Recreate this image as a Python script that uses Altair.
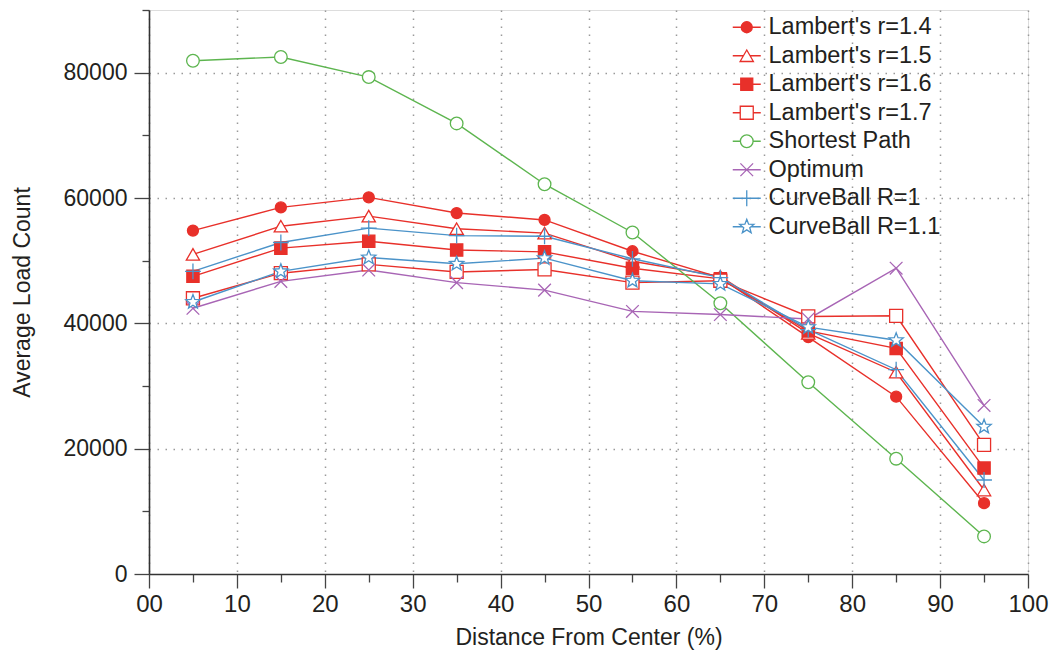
import altair as alt
import pandas as pd

# ---- data ----
x_pct = [5, 15, 25, 35, 45, 55, 65, 75, 85, 95]

series_names = [
    "Lambert's r=1.4",
    "Lambert's r=1.5",
    "Lambert's r=1.6",
    "Lambert's r=1.7",
    "Shortest Path",
    "Optimum",
    "CurveBall R=1",
    "CurveBall R=1.1",
]

lam14 = [54800, 58500, 60100, 57600, 56500, 51500, 47300, 37800, 28300, 11300]
lam15 = [51000, 55500, 57100, 55100, 54400, 49900, 47500, 38400, 32200, 13400]
lam16 = [47500, 52000, 53100, 51700, 51400, 48800, 47100, 38800, 36000, 16900]
lam17 = [44000, 48000, 49400, 48200, 48600, 46500, 46800, 41100, 41200, 20600]
shortest = [81900, 82500, 79300, 71900, 62200, 54500, 43200, 30600, 18400, 6000]
optimum = [42400, 46700, 48500, 46500, 45300, 41900, 41400, 40700, 48800, 26900]
cb1 = [48300, 52900, 55200, 54000, 53900, 50300, 47300, 39000, 32600, 15000]
cb11 = [43400, 48300, 50500, 49500, 50400, 46800, 46300, 39400, 37300, 23500]

series_values = [lam14, lam15, lam16, lam17, shortest, optimum, cb1, cb11]

# ---- styles ----
RED = "#e8302a"
GREEN = "#5db54f"
PURPLE = "#a865b5"
BLUE = "#4b93c9"
colors = [RED, RED, RED, RED, GREEN, PURPLE, BLUE, BLUE]
fills = [RED, "white", RED, "white", "white", "white", "white", "white"]

# plot markers
STAR = ("M0,-1L0.247,-0.34L0.951,-0.309L0.4,0.13L0.588,0.809L0,0.42"
        "L-0.588,0.809L-0.4,0.13L-0.951,-0.309L-0.247,-0.34Z")
XMARK = "M-1,-1L1,1M1,-1L-1,1"
PLUS = "M-1,0L1,0M0,-1L0,1"
shapes = ["circle", "triangle-up", "square", "square", "circle", XMARK, PLUS, STAR]
sizes = [121, 177, 150, 170, 160, 160, 250, 225]

# legend symbols: marker with a short line through it (unit = 10 px)
def circ(r):
    return f"M-{r},0A{r},{r} 0 1,0 {r},0A{r},{r} 0 1,0 -{r},0Z"

LG_FULL = "M-1.4,0L1.4,0"
def lg_split(h):
    return f"M-1.4,0L-{h},0M{h},0L1.4,0"

legend_shapes = [
    LG_FULL + circ(0.55),
    lg_split(0.333) + "M0,-0.576L-0.665,0.576L0.665,0.576Z",
    LG_FULL + "M-0.6,-0.6L0.6,-0.6L0.6,0.6L-0.6,0.6Z",
    lg_split(0.65) + "M-0.65,-0.65L0.65,-0.65L0.65,0.65L-0.65,0.65Z",
    lg_split(0.635) + circ(0.635),
    LG_FULL + "M-0.635,-0.635L0.635,0.635M0.635,-0.635L-0.635,0.635",
    LG_FULL + "M0,-0.79L0,0.79",
    lg_split(0.42) + ("M0,-0.75L0.185,-0.255L0.713,-0.232L0.3,0.0975L0.441,0.607"
                      "L0,0.315L-0.441,0.607L-0.3,0.0975L-0.713,-0.232L-0.185,-0.255Z"),
]

rows = []
for name, vals in zip(series_names, series_values):
    for xv, yv in zip(x_pct, vals):
        rows.append({"x": xv, "y": yv, "series": name})
df = pd.DataFrame(rows)

FONT = "Liberation Sans"
TXT = "#231f20"

x_axis = alt.Axis(
    values=list(range(0, 101, 5)),
    labelExpr="datum.value % 10 === 0 ? (datum.value === 0 ? '00' : datum.label) : ''",
    tickSize={"condition": {"test": "datum.value % 10 === 0", "value": 14}, "value": 8},
    gridOpacity={"condition": {"test": "datum.value % 10 === 0", "value": 1}, "value": 0},
    grid=True,
    gridDash=[1.5, 6.5],
    gridColor="#9a9a9a",
    gridWidth=1.5,
    labelFontSize=24,
    labelPadding=4,
    labelColor=TXT,
    labelFont=FONT,
    labelOverlap=False,
    labelFlush=False,
    titleFont=FONT,
    titleFontSize=23,
    titleFontWeight="normal",
    titleColor=TXT,
    titleX=439.5,
    titleY=63,
    titleAlign="center",
    titleBaseline="middle",
    domainColor="#333333",
    domainWidth=1.6,
    tickColor="#444444",
    tickWidth=1.3,
)

y_axis = alt.Axis(
    values=list(range(0, 90001, 10000)),
    format="d",
    labelExpr="datum.value % 20000 === 0 ? datum.label : ''",
    tickSize={"condition": {"test": "datum.value % 20000 === 0", "value": 15}, "value": 7},
    gridOpacity={"condition": {"test": "datum.value % 20000 === 0 && datum.value > 0", "value": 1}, "value": 0},
    grid=True,
    gridDash=[1.5, 6.5],
    gridColor="#9a9a9a",
    gridWidth=1.5,
    labelFontSize=23,
    labelPadding=7,
    labelColor=TXT,
    labelFont=FONT,
    labelOverlap=False,
    labelFlush=False,
    titleFont=FONT,
    titleFontSize=23,
    titleFontWeight="normal",
    titleColor=TXT,
    titleX=-127,
    titleY=282,
    titleAngle=270,
    titleAlign="center",
    titleBaseline="middle",
    domainColor="#333333",
    domainWidth=1.6,
    tickColor="#444444",
    tickWidth=1.3,
)

base = alt.Chart(df).encode(
    x=alt.X("x:Q", scale=alt.Scale(domain=[0, 100], nice=False, zero=False),
            axis=x_axis, title="Distance From Center (%)"),
    y=alt.Y("y:Q", scale=alt.Scale(domain=[0, 90000], nice=False),
            axis=y_axis, title="Average Load Count"),
)

lines = base.mark_line(strokeWidth=1.4).encode(
    color=alt.Color("series:N", scale=alt.Scale(domain=series_names, range=colors),
                    legend=None),
)

points = base.mark_point(strokeWidth=1.3, opacity=1, fillOpacity=1).encode(
    shape=alt.Shape("series:N", scale=alt.Scale(domain=series_names, range=shapes),
                    legend=None),
    stroke=alt.Stroke("series:N", scale=alt.Scale(domain=series_names, range=colors),
                      legend=None),
    fill=alt.Fill("series:N", scale=alt.Scale(domain=series_names, range=fills),
                  legend=None),
    size=alt.Size("series:N", scale=alt.Scale(type="ordinal", domain=series_names, range=sizes),
                  legend=None),
)

leg = alt.Legend(
    title=None, orient="none", legendX=586, legendY=5.5, padding=0,
    labelFontSize=23.5, labelFont=FONT, labelColor=TXT, labelOffset=10,
    labelLimit=400, rowPadding=3.5, symbolSize=400, symbolStrokeWidth=1.3,
)

legend_layer = base.mark_point(strokeWidth=1.3, opacity=1, fillOpacity=1).encode(
    shape=alt.Shape("series:N", scale=alt.Scale(domain=series_names, range=legend_shapes),
                    legend=leg),
    stroke=alt.Stroke("series:N", scale=alt.Scale(domain=series_names, range=colors),
                      legend=leg),
    fill=alt.Fill("series:N", scale=alt.Scale(domain=series_names, range=fills),
                  legend=leg),
).transform_filter("false")

chart = alt.layer(lines, points, legend_layer).resolve_scale(
    shape="independent", stroke="independent", fill="independent"
).properties(
    width=879,
    height=564,
    padding={"left": 149, "top": 10, "right": 27, "bottom": 82},
    autosize=alt.AutoSizeParams(type="none"),
).configure_view(
    stroke="#888888", strokeWidth=1.5
).configure(background="white")

chart.save("out.html", embed_options={"renderer": "svg", "actions": False})
